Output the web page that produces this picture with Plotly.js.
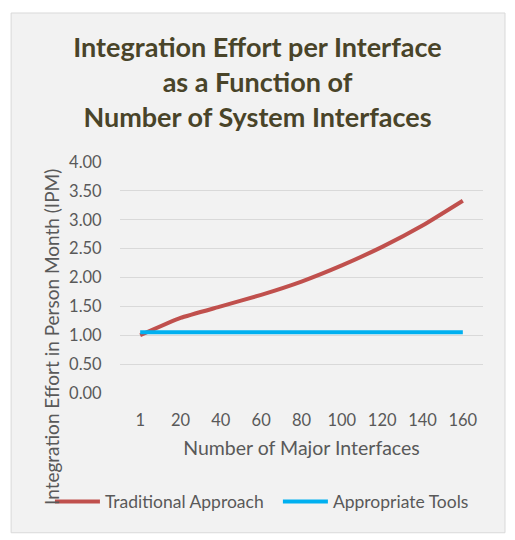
<!DOCTYPE html>
<html><head><meta charset="utf-8">
<script src="https://cdn.plot.ly/plotly-3.0.1.min.js"></script>
<style>html,body{margin:0;padding:0;background:#fff}#c{width:515px;height:540px}</style>
</head><body><div id="c"></div>
<script>
const categories = ["1","20","40","60","80","100","120","140","160"];
const traditional = [1.00, 1.30, 1.50, 1.70, 1.93, 2.21, 2.53, 2.90, 3.33];
const tools = [1.05, 1.05, 1.05, 1.05, 1.05, 1.05, 1.05, 1.05, 1.05];
const yTicks = [0, 0.5, 1, 1.5, 2, 2.5, 3, 3.5, 4];

const font = "Lato, 'Open Sans', sans-serif";
const traces = [
  {x: categories, y: traditional, type: 'scatter', mode: 'lines', name: 'Traditional Approach', legend: 'legend',
   line: {color: '#C0504D', width: 4, shape: 'spline', smoothing: 0.4}},
  {x: categories, y: tools, type: 'scatter', mode: 'lines', name: 'Appropriate Tools', legend: 'legend2',
   line: {color: '#00B0F0', width: 4}}
];
const legendStyle = {orientation: 'h', xanchor: 'left', y: -0.47, yanchor: 'middle',
  font: {size: 17.5, color: '#595959'}, itemwidth: 45, bgcolor: 'rgba(0,0,0,0)'};
const layout = {
  width: 515, height: 540,
  paper_bgcolor: '#ffffff', plot_bgcolor: '#f2f2f2',
  margin: {l: 120, r: 32, t: 162, b: 147},
  font: {family: font, color: '#595959', size: 14},
  title: {text: 'Integration Effort per Interface<br>as a Function of<br>Number of System Interfaces',
          font: {family: font, size: 27, color: '#494429', weight: 'bold'},
          x: 0.5, xref: 'container', xanchor: 'center', y: 0.895, yanchor: 'middle', yref: 'container'},
  xaxis: {type: 'category', range: [-0.5, 8.5], showgrid: false, zeroline: false, showline: false,
          ticks: 'outside', ticklen: 12, tickcolor: 'rgba(0,0,0,0)', tickfont: {size: 16.5, color: '#595959'},
          title: {text: 'Number of Major Interfaces', font: {size: 19.5, color: '#595959'}, standoff: 12}},
  yaxis: {range: [0, 4], tickvals: yTicks, tickformat: '.2f', showgrid: true, gridcolor: '#d9d9d9', gridwidth: 1,
          zeroline: false, showline: false, ticks: 'outside', ticklen: 14, tickcolor: 'rgba(0,0,0,0)',
          tickfont: {size: 16.5, color: '#595959'}},
  showlegend: true,
  legend: Object.assign({}, legendStyle, {x: -0.193}),
  legend2: Object.assign({}, legendStyle, {x: 0.435}),
  shapes: [{type: 'rect', xref: 'paper', yref: 'paper', layer: 'below',
            x0: -0.300, x1: 1.0606, y0: -0.605, y1: 1.645,
            fillcolor: '#f2f2f2', line: {color: '#d9d9d9', width: 1}}],
  annotations: [{text: 'Integration Effort in Person Month (IPM)', xref: 'paper', yref: 'paper',
                 x: -0.187, y: 0.243, textangle: -90, showarrow: false, xanchor: 'center', yanchor: 'middle',
                 font: {size: 19, color: '#595959'}}]
};
Plotly.newPlot('c', traces, layout, {displayModeBar: false});
</script></body></html>
